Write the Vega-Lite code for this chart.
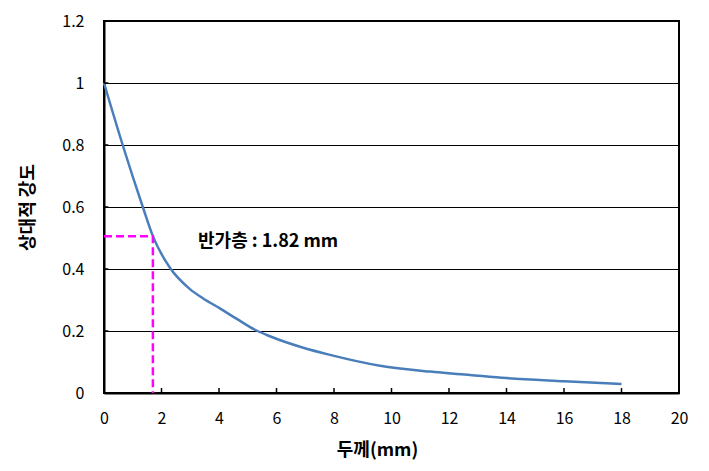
{
  "$schema": "https://vega.github.io/schema/vega-lite/v6.json",
  "width": 575,
  "height": 372,
  "autosize": {"type": "none"},
  "padding": {"left": 104, "top": 21, "right": 30, "bottom": 78},
  "background": "white",
  "config": {
    "view": {"stroke": "black", "strokeWidth": 2},
    "font": "Noto Sans CJK KR",
    "axis": {
      "labelFont": "Noto Sans CJK KR",
      "titleFont": "Noto Sans CJK KR",
      "labelColor": "black",
      "titleColor": "black",
      "labelFontSize": 16,
      "titleFontSize": 18,
      "titleFontWeight": "bold",
      "domainColor": "black",
      "domainWidth": 2,
      "ticks": false,
      "tickSize": 0,
      "labelFlush": false
    }
  },
  "datasets": {
    "curve": [
      {"thickness": 0, "intensity": 1.0},
      {"thickness": 0.65, "intensity": 0.8},
      {"thickness": 1.35, "intensity": 0.6},
      {"thickness": 1.7, "intensity": 0.506},
      {"thickness": 2.3, "intensity": 0.403},
      {"thickness": 2.99, "intensity": 0.335},
      {"thickness": 3.45, "intensity": 0.305},
      {"thickness": 4.03, "intensity": 0.273},
      {"thickness": 4.62, "intensity": 0.239},
      {"thickness": 5.25, "intensity": 0.204},
      {"thickness": 5.77, "intensity": 0.183},
      {"thickness": 6.93, "intensity": 0.146},
      {"thickness": 7.86, "intensity": 0.123},
      {"thickness": 9.6, "intensity": 0.088},
      {"thickness": 11.34, "intensity": 0.069},
      {"thickness": 12.73, "intensity": 0.058},
      {"thickness": 14, "intensity": 0.048},
      {"thickness": 16, "intensity": 0.038},
      {"thickness": 18, "intensity": 0.029}
    ],
    "hvl": [
      {"thickness": 0, "intensity": 0.506, "order": 1},
      {"thickness": 1.7, "intensity": 0.506, "order": 2},
      {"thickness": 1.7, "intensity": 0, "order": 3}
    ],
    "note": [
      {"thickness": 3.27, "intensity": 0.487, "label": "반가층 : 1.82 mm"}
    ],
    "xticks": [
      {"thickness": 2}, {"thickness": 4}, {"thickness": 6}, {"thickness": 8}, {"thickness": 10},
      {"thickness": 12}, {"thickness": 14}, {"thickness": 16}, {"thickness": 18}
    ],
    "yticks": [
      {"intensity": 0.2}, {"intensity": 0.4}, {"intensity": 0.6}, {"intensity": 0.8}, {"intensity": 1.0}
    ]
  },
  "layer": [
    {
      "data": {"name": "curve"},
      "mark": {"type": "line", "color": "#4A7EBB", "strokeWidth": 2.5, "interpolate": "monotone"},
      "encoding": {
        "x": {
          "field": "thickness", "type": "quantitative",
          "scale": {"domain": [0, 20], "nice": false},
          "axis": {
            "title": "두께(mm)",
            "values": [0, 2, 4, 6, 8, 10, 12, 14, 16, 18, 20],
            "grid": false,
            "labelPadding": 17,
            "titlePadding": 15,
            "titleX": 273
          }
        },
        "y": {
          "field": "intensity", "type": "quantitative",
          "scale": {"domain": [0, 1.2], "nice": false},
          "axis": {
            "title": "상대적 강도",
            "values": [0, 0.2, 0.4, 0.6, 0.8, 1, 1.2],
            "format": "~g",
            "grid": true,
            "gridColor": "black",
            "gridOpacity": 1,
            "gridWidth": 1,
            "labelPadding": 20,
            "titlePadding": 24
          }
        }
      }
    },
    {
      "data": {"name": "xticks"},
      "mark": {"type": "rule", "color": "black", "strokeWidth": 1.5},
      "encoding": {
        "x": {"field": "thickness", "type": "quantitative"},
        "y": {"datum": 0},
        "y2": {"datum": 0.016}
      }
    },
    {
      "data": {"name": "yticks"},
      "mark": {"type": "rule", "color": "black", "strokeWidth": 1.5},
      "encoding": {
        "y": {"field": "intensity", "type": "quantitative"},
        "x": {"datum": 0},
        "x2": {"datum": 0.15}
      }
    },
    {
      "data": {"name": "hvl"},
      "mark": {"type": "line", "color": "#FF00FF", "strokeWidth": 2.5, "strokeDash": [8, 4]},
      "encoding": {
        "x": {"field": "thickness", "type": "quantitative"},
        "y": {"field": "intensity", "type": "quantitative"},
        "order": {"field": "order"}
      }
    },
    {
      "data": {"name": "note"},
      "mark": {"type": "text", "align": "left", "baseline": "middle", "fontSize": 18, "fontWeight": "bold", "font": "Noto Sans CJK KR", "color": "black"},
      "encoding": {
        "x": {"field": "thickness", "type": "quantitative"},
        "y": {"field": "intensity", "type": "quantitative"},
        "text": {"field": "label"}
      }
    }
  ]
}
